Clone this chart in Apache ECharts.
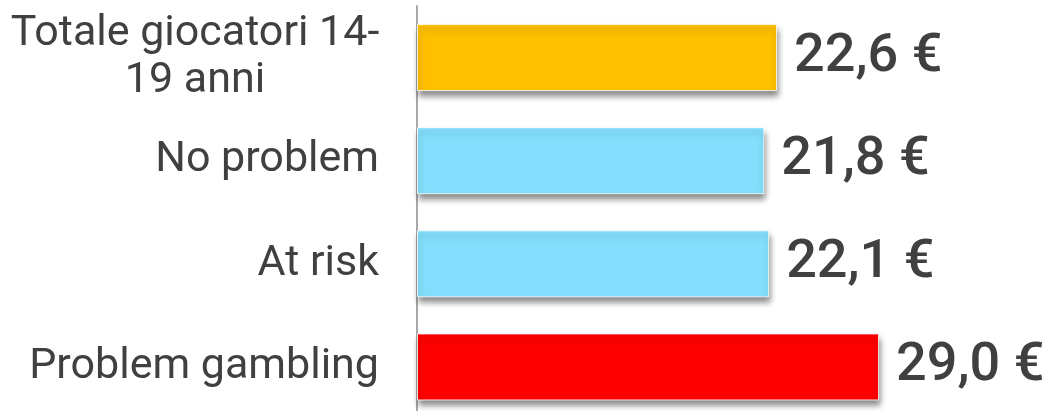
<!DOCTYPE html>
<html><head><meta charset="utf-8">
<script src="https://cdn.jsdelivr.net/npm/echarts@6/dist/echarts.min.js"></script>
<style>html,body{margin:0;padding:0;background:#fff}#c{width:1044px;height:411px}</style>
</head><body><div id="c"></div>
<script>
const categories = ["Totale giocatori 14-\n19 anni", "No problem", "At risk", "Problem gambling"];
const values = [22.6, 21.8, 22.1, 29.0];
const barColors = ["#FFC000", "#83DFFD", "#83DFFD", "#FF0000"];

const chart = echarts.init(document.getElementById('c'), null, {renderer: 'canvas'});
chart.setOption({
  animation: false,
  grid: {left: 417, top: 6, width: 478, height: 412.5, containLabel: false, outerBoundsMode: 'none'},
  xAxis: {type: 'value', min: 0, max: 30, show: false},
  yAxis: {
    type: 'category', inverse: true, data: categories,
    axisLine: {show: true, lineStyle: {color: '#A8A8A8', width: 2}},
    axisTick: {show: false},
    axisLabel: {
      fontFamily: 'Roboto', fontSize: 43, color: '#404040', margin: 38, align: 'right', lineHeight: 47,
      formatter: v => v.indexOf('\n') >= 0 ? v.split('\n').map(s => '{c|' + s + '}').join('\n') : v,
      rich: {c: {fontFamily: 'Roboto', fontSize: 43, color: '#404040', lineHeight: 47, width: 368, align: 'center'}}
    }
  },
  series: [{
    type: 'bar', barWidth: 67,
    data: values.map((v, i) => ({value: v, itemStyle: {color: barColors[i]}})),
    itemStyle: {borderColor: 'rgba(255,255,255,0.8)', borderWidth: 1, shadowColor: 'rgba(0,0,0,0.45)', shadowBlur: 6, shadowOffsetX: 1, shadowOffsetY: 5},
    label: {show: true, position: 'right', distance: 17, fontFamily: 'Roboto', fontSize: 54, fontWeight: 500, color: '#404040',
      formatter: p => p.value.toFixed(1).replace('.', ',') + ' €'}
  }]
});
</script></body></html>
